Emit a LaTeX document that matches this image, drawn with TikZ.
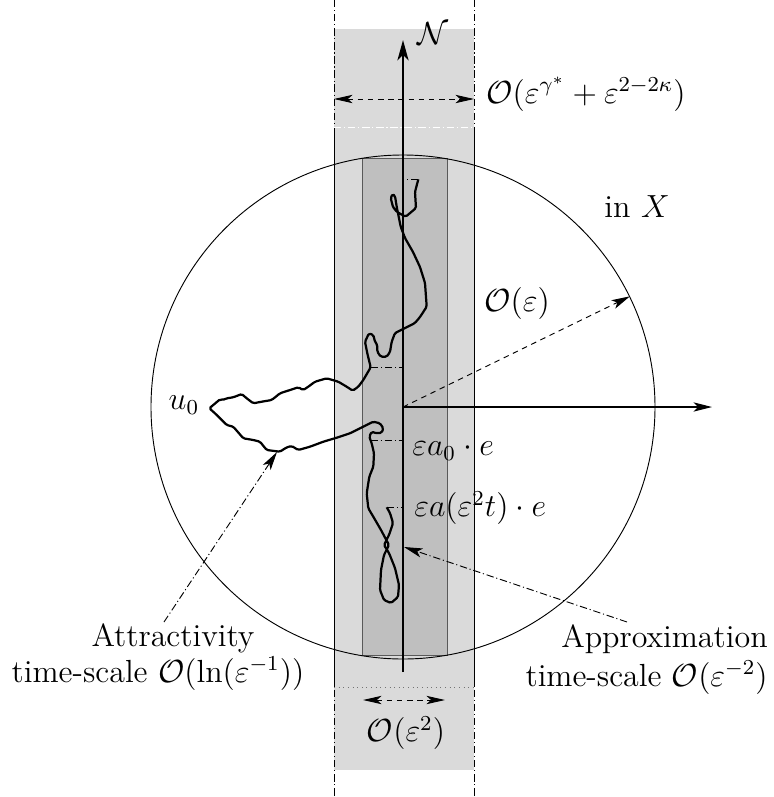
\documentclass[tikz,border=0pt]{standalone}
\usepackage{amsmath}
\usepackage{graphicx}
\usetikzlibrary{arrows.meta}
\definecolor{bandgray}{gray}{0.855}
\definecolor{stripgray}{gray}{0.75}
\newcommand{\bigtxt}[1]{\scalebox{1.44}{\fontsize{12}{14}\selectfont #1}}
\begin{document}
\begin{tikzpicture}[x=0.54pt,y=-0.54pt,
  txt/.style={inner sep=0pt},
  tipa/.style={-{Stealth[length=10pt,width=5pt,inset=2.5pt]}},
  dtip/.style={{Stealth[length=10pt,width=4.5pt,inset=2.5pt]}-{Stealth[length=10pt,width=4.5pt,inset=2.5pt]}},
  dashdot/.style={dash pattern=on 4pt off 1.5pt on 0.6pt off 1.5pt},
  dashline/.style={dash pattern=on 3pt off 2.5pt},
  thinline/.style={line width=0.5pt},
  walk/.style={line width=1.2pt, line join=round, rounded corners=0.8pt}]
\useasboundingbox (0,0) rectangle (774,797);
% light band
\fill[bandgray] (334,29) rectangle (474,770);
\draw[thinline, dashdot] (334,0) -- (334,797);
\draw[thinline, dashdot] (474,0) -- (474,797);
\draw[thinline] (334,127) -- (334,687);
\draw[thinline] (474,127) -- (474,687);
\draw[white, thinline, dashdot] (334,127) -- (474,127);
\draw[black!55, thinline, dotted] (334,687) -- (474,687);
% dark strip
\draw[fill=stripgray, draw=black!65, thinline] (362,158.5) rectangle (447,655.5);
% circle
\coordinate (c) at (403,407);
\node[draw, circle, thinline, minimum size=272.16pt, inner sep=0pt] (disk) at (c) {};
% path
\draw[walk] (418.3,179.3) -- (415,192) -- (416,208) -- (405.7,216.7) -- (397,212) -- (393,207) -- (390.7,198) -- (392.7,194) -- (395,196) -- (396.7,206.7) -- (400.7,226.7) -- (405,238) -- (413,252) -- (420,267) -- (425,283) -- (426.7,306.7) -- (420,317) -- (415,323) -- (405,328) -- (395,333) -- (391.7,341.7) -- (390,352) -- (386.7,356.7) -- (380.7,356.7) -- (377.3,351.7) -- (377.3,345) -- (375,341.7) -- (373.3,335) -- (369,333.3) -- (365,341.7) -- (367.3,353.3) -- (370.7,367.3) -- (363.3,380) -- (358.3,386.7) -- (352.7,390.7) -- (346.7,386.7) -- (338.3,381.7) -- (326.7,378.3) -- (315,381.7) -- (308.3,386.7) -- (303.3,390) -- (298.3,387.3) -- (290,390) -- (280,393.3) -- (271.7,400) -- (261.7,401.7) -- (253.3,403.3) -- (246.7,398.3) -- (241.7,394) -- (233.3,397.3) -- (226.7,398.3) -- (222.7,400) -- (220,399.3) -- (216,402.7) -- (209.3,408.3) -- (215,413.3) -- (226.7,425) -- (233.3,426.7) -- (243.3,438.3) -- (253.3,440) -- (260,441.7) -- (266.7,450) -- (280,451.7) -- (286.7,447.3) -- (291.7,446) -- (298.3,450) -- (310,446.7) -- (323.3,441.7) -- (336.7,437.7) -- (350,433.3) -- (363.3,426.7) -- (373.3,421.7) -- (380,423.3) -- (383.3,428.3) -- (381.7,432.7) -- (376.7,433.3) -- (371.7,431.7) -- (369.3,436.7) -- (371.7,443.3) -- (374,453.3) -- (373.3,466.7) -- (369.3,476.7) -- (366.7,493.3) -- (368.3,508.3) -- (373.3,516.7) -- (381,530) -- (389,545) -- (384,555) -- (381,570) -- (380,590) -- (384,600) -- (391,603) -- (398,597) -- (399,585) -- (395,568) -- (389,553) -- (384,545) -- (389,535) -- (393,523) -- (390,513) -- (386.7,507.3);
% projection marks
\coordinate (p1) at (418,179); \coordinate (q1) at (403,179);
\coordinate (p2) at (371,367); \coordinate (q2) at (403,367);
\coordinate (p3) at (370.5,440); \coordinate (q3) at (403,440);
\coordinate (p4) at (386.7,507.3); \coordinate (q4) at (403,507.3);
\draw[thinline, dashdot] (p1) -- (q1);
\draw[thinline, dashdot] (p2) -- (q2);
\draw[thinline, dashdot] (p3) -- (q3);
\draw[thinline, dashdot] (p4) -- (q4);
% axes
\coordinate (nb) at (403,672); \coordinate (nt) at (403,40);
\draw[line width=1.6pt, -{Stealth[length=11pt,width=6pt,inset=3pt]}] (nb) -- (nt);
\coordinate (xe) at (712,407);
\draw[line width=0.6pt, tipa] (c) -- (xe);
\node[txt] (nlab) at (433,34) {\bigtxt{$\mathcal{N}$}};
% width arrows
\coordinate (tl) at (334,99); \coordinate (tr) at (474,99);
\draw[thinline, dashline, dtip] (tl) -- (tr);
\node[txt, anchor=west] (wlab) at (486,94) {\bigtxt{$\mathcal{O}(\varepsilon^{\gamma^*}+\varepsilon^{2-2\kappa})$}};
\coordinate (bl) at (363,700); \coordinate (br) at (445,700);
\draw[thinline, dashline, dtip] (bl) -- (br);
\node[txt] (blab) at (406,733) {\bigtxt{$\mathcal{O}(\varepsilon^{2})$}};
% radius arrow
\draw[thinline, dashline, tipa] (c) -- (disk.26);
\node[txt] (rlab) at (517,303) {\bigtxt{$\mathcal{O}(\varepsilon)$}};
\node[txt] (xlab) at (637,207) {\bigtxt{in $X$}};
\node[txt] (ulab) at (184,405) {\bigtxt{$u_0$}};
\node[txt, anchor=west] (alab) at (412,451) {\bigtxt{$\varepsilon a_0\cdot e$}};
\node[txt, anchor=west] (blab2) at (414,508) {\bigtxt{$\varepsilon a(\varepsilon^2 t)\cdot e$}};
% pointers
\coordinate (at) at (164,622); \coordinate (ah) at (277,452);
\draw[thinline, dashdot, tipa] (at) -- (ah);
\coordinate (pt) at (627,622); \coordinate (ph) at (404,547);
\draw[thinline, dashdot, tipa] (pt) -- (ph);
\node[txt, anchor=base] (attr1) at (173,646) {\bigtxt{Attractivity}};
\node[txt, anchor=base] (attr2) at (158,682) {\bigtxt{time-scale $\mathcal{O}(\ln(\varepsilon^{-1}))$}};
\node[txt, anchor=base east] (appr1) at (768,647) {\bigtxt{Approximation}};
\node[txt, anchor=base east] (appr2) at (768,686) {\bigtxt{time-scale $\mathcal{O}(\varepsilon^{-2})$}};
\end{tikzpicture}
\end{document}
